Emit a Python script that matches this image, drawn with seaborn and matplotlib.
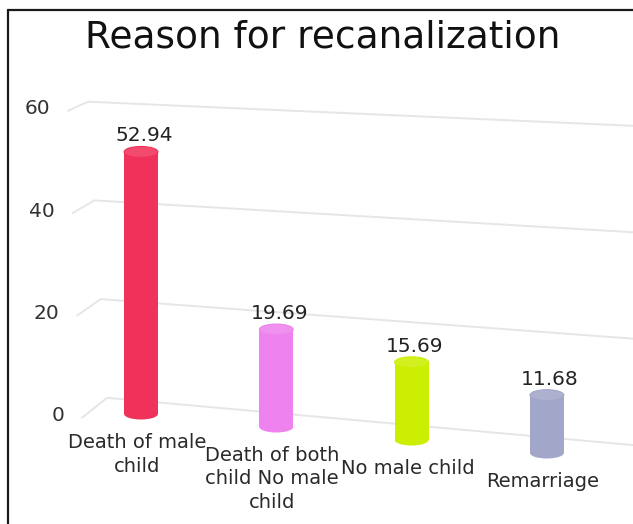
import matplotlib
matplotlib.use('Agg')
import matplotlib.pyplot as plt
import matplotlib.transforms as mtransforms
from matplotlib.patches import Ellipse
from matplotlib.lines import Line2D
from matplotlib.colors import to_rgb
import pandas as pd
import seaborn as sns

# data
categories = ['Death of male\nchild', 'Death of both\nchild No male\nchild',
              'No male child', 'Remarriage']
values = [52.94, 19.69, 15.69, 11.68]
bar_colors = ['#F0325A', '#EE82EE', '#CCEE00', '#A2A6C8']
yticks = [0, 20, 40, 60]
title = 'Reason for recanalization'

# layout, in pixels
W, H = 633, 524
X0, XSTEP = 141, 135.3   # first category, px per category
Y0, YSCALE = 414, 4.95   # value 0 of first bar, px per unit
DROP = 13                # each category sits a bit lower (fake 3d)
CAP = 11                 # height of the cylinder caps


def lighten(c, f=0.12):
    r, g, b = to_rgb(c)
    return (r + (1 - r) * f, g + (1 - g) * f, b + (1 - b) * f)


sns.set_style('white')
plt.rcParams['font.family'] = ['DejaVu Sans']

df = pd.DataFrame({'reason': categories, 'pct': values})

fig = plt.figure(figsize=(W / 100, H / 100), dpi=100)
ax = fig.add_axes([0, 0, 1, 1])
sns.barplot(data=df, x='reason', y='pct', hue='reason', palette=bar_colors,
            width=0.25, saturation=1, legend=False, linewidth=0, zorder=2, ax=ax)
ax.set_xlim(-X0 / XSTEP, (W - X0) / XSTEP)
ax.set_ylim((Y0 - H) / YSCALE, Y0 / YSCALE)
ax.axis('off')


def shifted(dx=0, dy=0):
    return mtransforms.offset_copy(ax.transData, fig=fig, x=dx, y=dy, units='dots')


# back wall grid with its little side corner
xr = ax.get_xlim()[1]
for v in yticks:
    t = v / yticks[-1]
    cx = (107 - 19 * t - X0) / XSTEP
    cy = 3.27 + 0.997 * v
    lx = cx - (25 - 5 * t) / XSTEP
    ly = cy - (20 - 11 * t) / YSCALE
    ry = -6.28 + 1.075 * v
    ax.plot([lx, cx, xr], [ly, cy, ry], color='#e6e6e6', lw=1.4, zorder=0.5,
            solid_joinstyle='round', solid_capstyle='round')
    ax.text(lx - 18 / XSTEP, ly + 0.4, str(v), ha='right', va='center',
            fontsize=14.5, color='#333333')

# cylinders
bars = sorted(ax.patches, key=lambda p: p.get_x())
cap_h = CAP / YSCALE
for i, (bar, col, val, cat) in enumerate(zip(bars, bar_colors, values, categories)):
    tr = shifted(0, -DROP * i)
    bar.set_transform(tr)
    w = bar.get_width()
    xc = bar.get_x() + w / 2
    top = bar.get_height()
    ax.add_patch(Ellipse((xc, 0), w, cap_h, color=col, lw=0, transform=tr, zorder=1.9))
    ax.add_patch(Ellipse((xc, top), w, cap_h, facecolor=lighten(col), edgecolor=col,
                         lw=0.8, transform=tr, zorder=2.1))
    ax.text(xc, top, f'{val:.2f}', transform=shifted(3, -DROP * i + CAP / 2 + 1),
            ha='center', va='bottom', fontsize=14.5, color='#222222')
    ax.text(xc, 0, cat, transform=shifted(-4, -DROP * i - 19),
            ha='center', va='top', fontsize=14, color='#2a2a2a', linespacing=1.3)

# title and the screenshot frame
fig.text(322.5 / W, 1 - 48 / H, title, ha='center', va='baseline',
         fontsize=27, color='#111111')
fig.add_artist(Line2D([8 / W, 8 / W], [0, 1 - 9.5 / H], color='#1a1a1a', lw=1.6))
fig.add_artist(Line2D([8 / W, 1], [1 - 9.5 / H, 1 - 9.5 / H], color='#1a1a1a', lw=1.6))

fig.savefig('out.png', dpi=100)
